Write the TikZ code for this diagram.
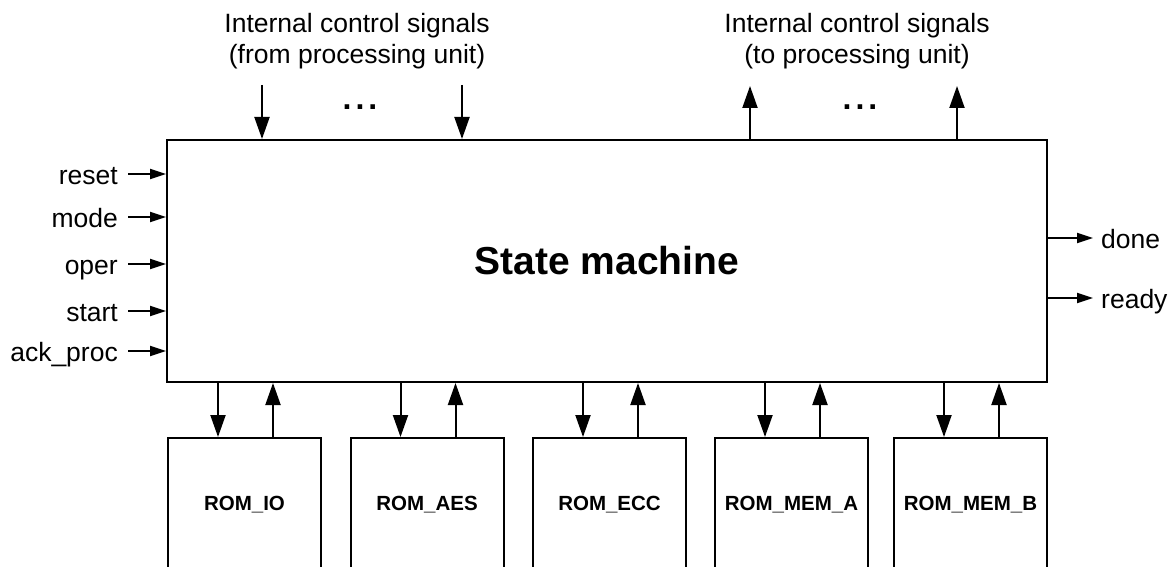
\documentclass[tikz,border=0pt]{standalone}
\usepackage{fontspec}
\setmainfont{Liberation Sans}
\usetikzlibrary{arrows.meta}
\begin{document}
\begin{tikzpicture}[x=1pt,y=-1pt,
  lw/.style={line width=2pt},
  bigarr/.style={lw,-{Triangle[length=22pt,width=15pt]}},
  smallarr/.style={lw,-{Triangle[length=16pt,width=10pt]}},
  sig/.style={font=\fontsize{26.5}{31}\selectfont,text height=20pt,text depth=0pt,inner xsep=10pt,inner ysep=0pt},
  toplbl/.style={font=\fontsize{26.5}{31}\selectfont,align=center,inner sep=0pt},
  dotsl/.style={font=\fontsize{32}{36}\selectfont\bfseries,inner sep=0pt},
  rom/.style={draw,lw,minimum width=153pt,minimum height=134pt,inner sep=0pt,font=\fontsize{20.5}{24}\selectfont\bfseries}
]
\useasboundingbox (0,0) rectangle (1173,567);
\clip (0,0) rectangle (1173,567);

% main state machine box
\node[draw,lw,minimum width=880pt,minimum height=242pt,inner sep=0pt,
      font=\fontsize{39}{46}\selectfont\bfseries] (sm) at (607,261) {State machine};

% top labels
\node[toplbl] (tl1) at (357,41) {Internal control signals\\(from processing unit)};
\node[toplbl] (tl2) at (857,41) {Internal control signals\\(to processing unit)};

% top arrows
\coordinate (in1) at (262,85);
\coordinate (in2) at (462,85);
\coordinate (out1) at (750,86);
\coordinate (out2) at (957,86);
\draw[bigarr] (in1) -- (in1 |- sm.north);
\draw[bigarr] (in2) -- (in2 |- sm.north);
\draw[bigarr] (out1 |- sm.north) -- (out1);
\draw[bigarr] (out2 |- sm.north) -- (out2);
\node[dotsl,anchor=base] (d1) at (360,110) {.\kern4pt.\kern4pt.};
\node[dotsl,anchor=base] (d2) at (860,110) {.\kern4pt.\kern4pt.};

% left inputs
\node[sig,anchor=east] (reset) at (128,174) {reset};
\node[sig,anchor=east] (mode) at (128,217) {mode};
\node[sig,anchor=east] (oper) at (128,264) {oper};
\node[sig,anchor=east] (start) at (128,311) {start};
\node[sig,anchor=east] (ack) at (128,351) {ack\_proc};
\foreach \n in {reset,mode,oper,start,ack}
  \draw[smallarr] (\n.east) -- (\n.east -| sm.west);

% right outputs
\node[sig,anchor=west,inner xsep=8pt] (done) at (1093,238) {done};
\node[sig,anchor=west,inner xsep=8pt] (ready) at (1093,298) {ready};
\draw[smallarr] (done.west -| sm.east) -- (done.west);
\draw[smallarr] (ready.west -| sm.east) -- (ready.west);

% ROM boxes
\node[rom] (r1) at (244.5,505) {ROM\_IO};
\node[rom] (r2) at (427,505) {ROM\_AES};
\node[rom] (r3) at (609.5,505) {ROM\_ECC};
\node[rom] (r4) at (791.5,505) {ROM\_MEM\_A};
\node[rom] (r5) at (970.5,505) {ROM\_MEM\_B};
\foreach \r in {r1,r2,r3,r4,r5}{
  \draw[bigarr] ([xshift=51pt]\r.north west |- sm.south) -- ([xshift=51pt]\r.north west);
  \draw[bigarr] ([xshift=106pt]\r.north west) -- ([xshift=106pt]\r.north west |- sm.south);
}
\end{tikzpicture}
\end{document}
